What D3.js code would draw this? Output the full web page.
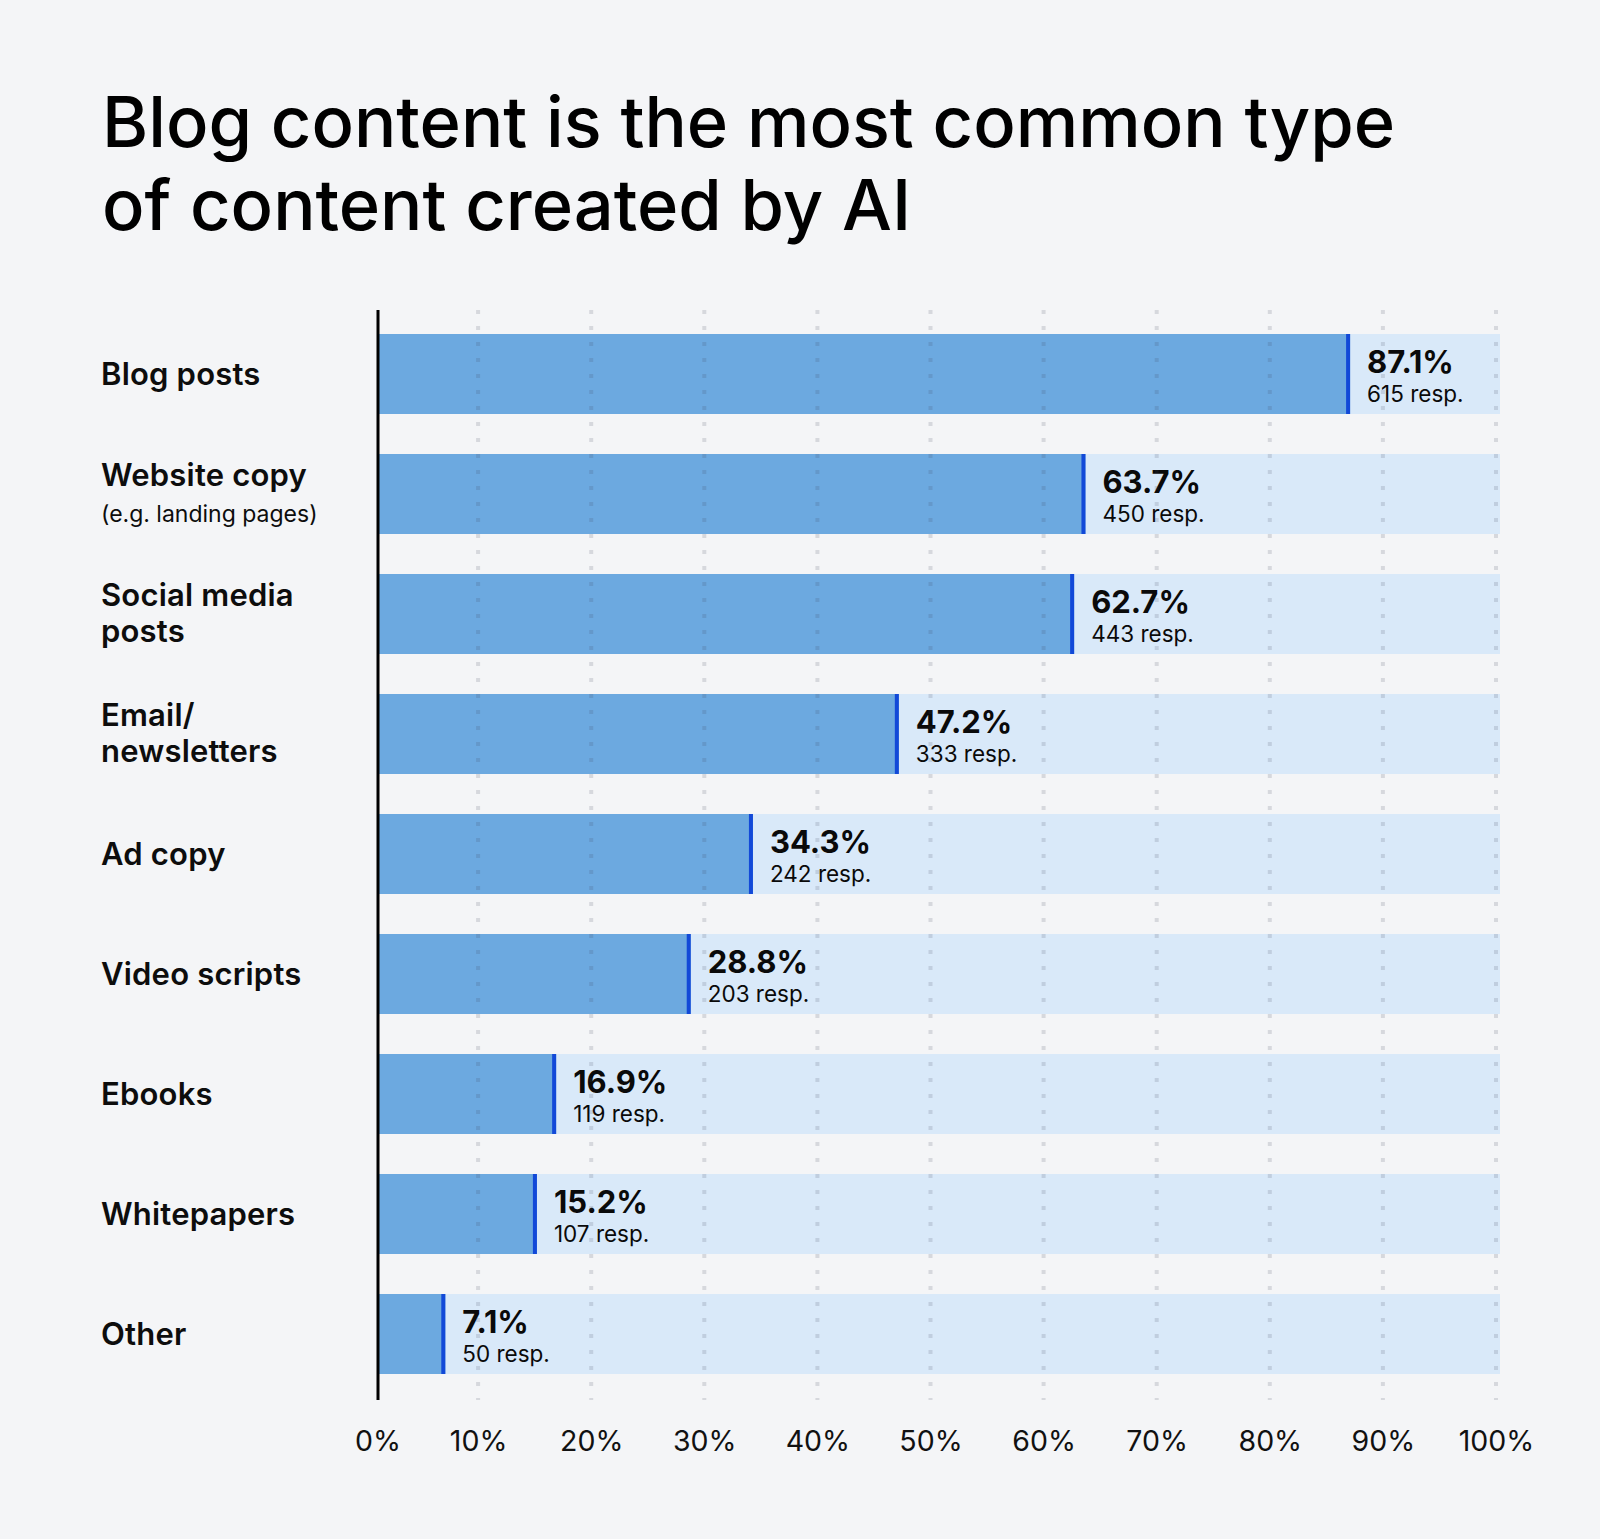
<!DOCTYPE html>
<html lang="en">
<head>
    <meta charset="UTF-8">
    <title>Blog content is the most common type of content created by AI</title>
    <style>
        body {
            margin: 0;
            background-color: #f4f5f7;
        }

        svg {
            display: block;
            font-family: Inter, "Noto Sans", sans-serif;
        }

        .title {
            font-weight: 500;
            fill: #000;
        }

        .cat {
            font-size: 31px;
            font-weight: 600;
            letter-spacing: 0.2px;
            fill: #0d0d0d;
        }

        .cat .note {
            font-size: 23px;
            font-weight: 400;
            letter-spacing: 0;
        }

        .value {
            font-size: 31px;
            font-weight: 700;
            fill: #0a0a0a;
        }

        .resp {
            font-size: 22.5px;
            font-weight: 400;
            fill: #0a0a0a;
        }

        .x-axis text {
            font-family: Inter, "Noto Sans", sans-serif;
            font-size: 28.5px;
            fill: #111;
        }
    </style>
    <script src="https://d3js.org/d3.v7.min.js"></script>
</head>
<body>

<script>
    // chart data
    const categories = ["Blog posts", "Website copy", "Social media posts", "Email/newsletters",
                        "Ad copy", "Video scripts", "Ebooks", "Whitepapers", "Other"];
    const labelLines = [["Blog posts"], ["Website copy"], ["Social media", "posts"], ["Email/", "newsletters"],
                        ["Ad copy"], ["Video scripts"], ["Ebooks"], ["Whitepapers"], ["Other"]];
    const labelNotes = ["", "(e.g. landing pages)", "", "", "", "", "", "", ""];
    const shares = [87.1, 63.7, 62.7, 47.2, 34.3, 28.8, 16.9, 15.2, 7.1];
    const responses = [615, 450, 443, 333, 242, 203, 119, 107, 50];
    const tickValues = [0, 10, 20, 30, 40, 50, 60, 70, 80, 90, 100];
    const titleLines = ["Blog content is the most common type", "of content created by AI"];

    const width = 1600;
    const height = 1539;
    const axisX = 378;
    const plotTop = 310;
    const plotBottom = 1400;

    const rows = categories.map((c, i) => ({
        cat: c,
        lines: labelLines[i],
        note: labelNotes[i],
        value: shares[i],
        resp: responses[i]
    }));

    const svg = d3.select("body")
                  .append("svg")
                  .attr("width", width)
                  .attr("height", height);

    const x = d3.scaleLinear()
                .domain([0, 100])
                .range([365, 1496]);

    const y = d3.scaleBand()
                .domain(categories)
                .range([334, 1374])
                .paddingInner(1 / 3)
                .paddingOuter(0);

    // title, sized to the width of the original heading
    const title = svg.append("text")
                     .attr("class", "title")
                     .attr("x", 102)
                     .attr("y", 147)
                     .style("font-size", "68px");
    title.selectAll("tspan")
         .data(titleLines)
         .enter()
         .append("tspan")
         .attr("x", 102)
         .attr("dy", (d, i) => i === 0 ? 0 : 83)
         .text(d => d);
    const firstLine = title.select("tspan").node().getComputedTextLength();
    title.style("font-size", (68 * 1294 / firstLine).toFixed(1) + "px");

    // light background tracks
    svg.selectAll(".track")
       .data(rows)
       .enter()
       .append("rect")
       .attr("class", "track")
       .attr("x", axisX)
       .attr("y", d => y(d.cat))
       .attr("width", x(100) + 4 - axisX)
       .attr("height", y.bandwidth())
       .attr("fill", "#d9e9f9");

    // value bars
    svg.selectAll(".bar")
       .data(rows)
       .enter()
       .append("rect")
       .attr("class", "bar")
       .attr("x", axisX)
       .attr("y", d => y(d.cat))
       .attr("width", d => x(d.value) - axisX)
       .attr("height", y.bandwidth())
       .attr("fill", "#6ca9e0");

    // dark blue end marker
    svg.selectAll(".marker")
       .data(rows)
       .enter()
       .append("rect")
       .attr("class", "marker")
       .attr("x", d => x(d.value) - 4)
       .attr("y", d => y(d.cat))
       .attr("width", 4)
       .attr("height", y.bandwidth())
       .attr("fill", "#1249d8");

    // value labels
    const labels = svg.selectAll(".vlabel")
                      .data(rows)
                      .enter()
                      .append("g")
                      .attr("class", "vlabel")
                      .attr("transform", d => `translate(${x(d.value) + 17},${y(d.cat) + y.bandwidth() / 2})`);
    labels.append("text")
          .attr("class", "value")
          .attr("y", -1)
          .text(d => d.value.toFixed(1) + "%");
    labels.append("text")
          .attr("class", "resp")
          .attr("y", 28)
          .text(d => d.resp + " resp.");

    // category labels
    const cats = svg.selectAll(".cat")
                    .data(rows)
                    .enter()
                    .append("text")
                    .attr("class", "cat")
                    .attr("x", 101)
                    .attr("y", d => {
                        const c = y(d.cat) + y.bandwidth() / 2;
                        return (d.lines.length > 1 || d.note) ? c - 8 : c + 11;
                    });
    cats.each(function(d) {
        const t = d3.select(this);
        d.lines.forEach((line, i) => {
            t.append("tspan")
             .attr("x", 101)
             .attr("dy", i === 0 ? 0 : 36)
             .text(line);
        });
        if (d.note) {
            t.append("tspan")
             .attr("class", "note")
             .attr("x", 101)
             .attr("dy", 36)
             .text(d.note);
        }
    });

    // dotted gridlines on top of the bars
    svg.selectAll(".grid")
       .data(tickValues.filter(v => v > 0))
       .enter()
       .append("line")
       .attr("class", "grid")
       .attr("x1", d => x(d))
       .attr("x2", d => x(d))
       .attr("y1", plotTop)
       .attr("y2", plotBottom)
       .attr("stroke", "rgba(60,70,90,0.16)")
       .attr("stroke-width", 4)
       .attr("stroke-dasharray", "4 12");

    // y axis line
    svg.append("line")
       .attr("x1", axisX)
       .attr("x2", axisX)
       .attr("y1", plotTop)
       .attr("y2", plotBottom)
       .attr("stroke", "#000")
       .attr("stroke-width", 3);

    // x axis tick labels
    const xAxis = d3.axisBottom(x)
                    .tickValues(tickValues)
                    .tickFormat(d => d + "%")
                    .tickSize(0)
                    .tickPadding(31);

    const gx = svg.append("g")
                  .attr("class", "x-axis")
                  .attr("transform", `translate(0,${plotBottom})`)
                  .call(xAxis);
    gx.select(".domain").remove();
    gx.selectAll(".tick")
      .filter(d => d === 0)
      .attr("transform", `translate(${axisX},0)`);
</script>

</body>
</html>
